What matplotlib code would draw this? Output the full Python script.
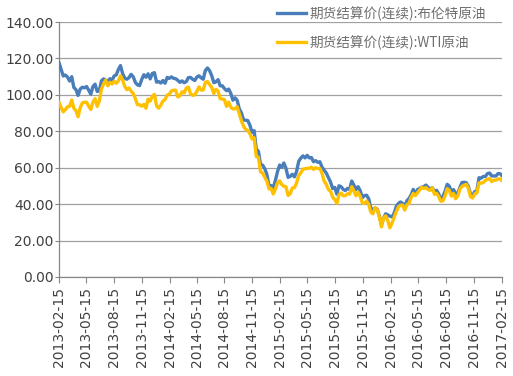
import pandas as pd
import matplotlib
matplotlib.use("Agg")
import matplotlib.pyplot as plt
import matplotlib.dates as mdates
from matplotlib.ticker import FormatStrFormatter

# weekly settlement prices (USD/bbl), Fridays from 2013-02-15, last point 2017-02-15
BRENT_2013 = [117.7, 114.0, 110.4, 110.9, 109.8, 107.6, 110.0, 104.1, 102.9, 99.7,
              103.2, 104.2, 103.9, 104.6, 102.6, 100.4, 104.6, 105.9, 101.9, 102.2,
              107.7, 108.8, 108.1, 107.2, 108.9, 108.0, 110.4, 111.0, 114.0, 116.1,
              111.7, 109.2, 108.6, 109.5, 111.3, 109.9, 106.9, 105.5, 105.1, 108.5,
              111.1, 109.7, 111.6, 108.8, 111.8, 112.2]
BRENT_2014 = [107.0, 107.3, 106.5, 107.9, 106.4, 109.6, 109.1, 109.9, 109.1, 108.9,
              108.0, 106.9, 107.7, 106.7, 107.3, 109.5, 109.6, 108.6, 107.9, 109.8,
              110.5, 109.4, 108.6, 113.4, 114.8, 113.3, 110.6, 106.7, 107.2, 108.4,
              105.0, 105.0, 103.5, 102.3, 103.2, 100.8, 97.1, 98.4, 97.0, 92.3,
              90.2, 86.2, 86.1, 85.9, 83.4, 79.4, 80.4, 70.2, 69.1, 61.9,
              61.4, 59.5]
BRENT_2015 = [56.4, 50.1, 50.2, 48.8, 53.0, 57.8, 61.5, 60.2, 62.6, 59.7,
              54.7, 55.3, 56.4, 55.0, 57.9, 63.5, 65.3, 66.5, 65.4, 66.8,
              65.4, 65.6, 63.3, 63.9, 63.0, 63.3, 60.3, 58.7, 57.1, 54.6,
              52.2, 48.6, 49.2, 45.5, 50.1, 49.6, 48.1, 47.5, 48.6, 48.1,
              52.7, 50.5, 48.0, 49.6, 47.4, 43.6, 44.7, 44.9, 43.0, 37.9,
              36.9, 37.9]
BRENT_2016 = [37.3, 33.6, 28.9, 32.2, 34.7, 34.1, 33.4, 33.0, 35.1, 38.7,
              40.4, 41.2, 40.4, 38.7, 41.9, 43.1, 45.1, 48.1, 45.4, 48.0,
              48.7, 49.3, 49.6, 50.5, 49.2, 48.4, 49.0, 46.8, 47.6, 45.7,
              42.5, 44.3, 47.0, 50.9, 49.9, 46.8, 48.0, 45.8, 46.0, 49.2,
              51.9, 52.0, 51.8, 49.7, 45.6, 44.8, 46.9, 47.2, 54.5, 54.3,
              55.2, 55.2, 56.8]
BRENT_2017 = [57.1, 55.5, 55.5, 55.5, 56.8, 56.7, 55.8]

WTI_2013 = [95.9, 93.1, 90.7, 91.9, 93.5, 93.7, 97.2, 92.7, 91.3, 88.0,
            93.0, 95.6, 96.0, 96.0, 93.8, 92.0, 96.0, 97.9, 93.7, 96.6,
            103.2, 106.0, 108.1, 105.0, 106.9, 106.0, 107.5, 106.4, 107.7, 110.5,
            108.2, 104.7, 102.9, 103.8, 102.0, 100.8, 97.9, 94.6, 94.6, 93.8,
            94.8, 92.7, 97.7, 96.6, 99.3, 100.3]
WTI_2014 = [94.0, 92.7, 94.4, 96.6, 97.5, 99.9, 100.3, 102.2, 102.6, 102.6,
            98.9, 99.5, 101.7, 101.1, 103.7, 104.3, 100.6, 99.8, 100.0, 102.0,
            104.4, 102.7, 102.7, 106.9, 107.3, 105.7, 104.1, 100.8, 103.1, 102.1,
            97.9, 97.7, 97.4, 93.7, 96.0, 93.3, 92.3, 92.4, 93.5, 89.7,
            85.8, 82.8, 81.0, 80.5, 78.7, 75.8, 76.5, 66.2, 65.8, 57.8,
            57.1, 54.7]
WTI_2015 = [52.7, 48.4, 48.7, 45.6, 48.2, 51.7, 52.8, 50.8, 49.8, 49.6,
            44.8, 45.7, 48.9, 49.1, 51.6, 55.7, 57.2, 59.2, 59.4, 59.7,
            59.7, 60.3, 59.1, 60.0, 59.6, 59.6, 56.9, 52.7, 50.9, 48.1,
            47.1, 43.9, 42.5, 40.5, 45.2, 46.1, 44.6, 44.7, 45.7, 45.5,
            49.6, 47.3, 44.6, 46.6, 44.3, 40.7, 40.4, 41.7, 40.0, 35.6,
            34.7, 38.1]
WTI_2016 = [37.0, 33.2, 27.5, 32.2, 33.6, 30.9, 27.0, 29.6, 32.8, 35.9,
            38.5, 39.4, 39.5, 36.8, 39.7, 40.4, 43.7, 45.9, 44.7, 46.2,
            47.8, 49.3, 48.6, 49.1, 48.0, 47.6, 49.0, 45.4, 46.0, 44.2,
            41.6, 41.8, 44.5, 48.5, 47.6, 44.4, 45.9, 43.0, 44.5, 48.2,
            49.8, 50.4, 50.9, 48.7, 44.1, 43.4, 45.7, 46.1, 51.7, 51.5,
            51.9, 53.0, 53.7]
WTI_2017 = [54.0, 52.4, 53.2, 53.2, 53.8, 53.9, 53.1]

BRENT = BRENT_2013 + BRENT_2014 + BRENT_2015 + BRENT_2016 + BRENT_2017
WTI = WTI_2013 + WTI_2014 + WTI_2015 + WTI_2016 + WTI_2017

LABEL_BRENT = "期货结算价(连续):布伦特原油"
LABEL_WTI = "期货结算价(连续):WTI原油"
C_BRENT, C_WTI = "#4A7EBB", "#FFC000"
Y_TICKS = [0, 20, 40, 60, 80, 100, 120, 140]

dates = list(pd.date_range("2013-02-15", "2017-02-10", freq="7D")) + [pd.Timestamp("2017-02-15")]
x_ticks = pd.date_range("2013-02-15", "2017-02-15", freq=pd.DateOffset(months=3))
assert len(dates) == len(BRENT) == len(WTI)

fig = plt.figure(figsize=(5.13, 3.76), dpi=100)
ax = fig.add_axes([0.115, 0.2633, 0.863, 0.678])

ax.plot(dates, BRENT, color=C_BRENT, lw=2.4, label=LABEL_BRENT, zorder=3)
ax.plot(dates, WTI, color=C_WTI, lw=2.4, label=LABEL_WTI, zorder=4)

ax.set_xlim(pd.Timestamp("2013-02-15"), pd.Timestamp("2017-02-15"))
ax.set_ylim(0, 140)
ax.set_yticks(Y_TICKS)
ax.yaxis.set_major_formatter(FormatStrFormatter("%.2f"))
ax.set_xticks(x_ticks)
ax.xaxis.set_major_formatter(mdates.DateFormatter("%Y-%m-%d"))
ax.tick_params(axis="x", rotation=90, length=4, pad=3, color="#888888",
               labelsize=10, labelcolor="#404040")
ax.tick_params(axis="y", length=3, pad=1, color="#888888",
               labelsize=10, labelcolor="#404040")

ax.yaxis.grid(True, color="#a0a0a0", lw=0.9, zorder=0)
ax.set_axisbelow(True)
for s in ("top", "right"):
    ax.spines[s].set_visible(False)
for s in ("left", "bottom"):
    ax.spines[s].set_color("#888888")
    ax.spines[s].set_linewidth(0.9)

leg = fig.legend(loc="upper left", bbox_to_anchor=(277 / 513, 1 - 6 / 376),
                 frameon=False, borderpad=0, borderaxespad=0, handlelength=2.1,
                 handletextpad=0.3, labelspacing=1.05,
                 prop={"family": ["Noto Sans CJK SC", "DejaVu Sans"], "size": 9.8})
for t in leg.get_texts():
    t.set_color("#6e6e6e")

fig.savefig("out.png", dpi=100)
